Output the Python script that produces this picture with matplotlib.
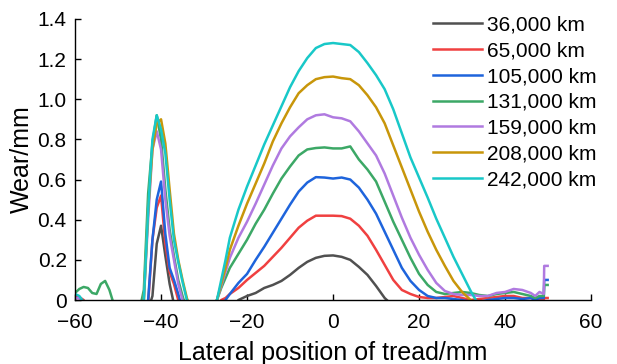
#!/usr/bin/env python3
"""
tread_wear.py
Lateral wear profiles of the tread at several mileages.
"""

import numpy as np
import matplotlib
matplotlib.use('Agg')
import matplotlib.pyplot as plt

# Lateral position across the tread (mm)
lateral_mm = [-61, -60, -59, -58, -57, -56, -55, -54, -53, -52, -51,
              -45, -44, -43, -42, -41, -40, -39, -38, -37, -36, -35, -34, -33,
              -30, -28, -27, -26, -25, -24, -22, -20, -18, -16, -14, -12, -10, -8, -6, -4, -2,
              0, 2, 4, 6, 8, 10, 12, 14, 16, 18, 20, 22, 24, 26, 28, 30, 32, 34, 36, 38, 40, 42, 44, 46,
              47, 48, 49, 49.1, 49.9]

# Wear depth (mm); negative values fall below the axis and are not shown
wear_36k = [-0.05, -0.05, -0.05, -0.05, -0.05, -0.05, -0.05, -0.05, -0.05, -0.05, -0.05,
            -0.05, -0.05, -0.05, 0.02, 0.28, 0.37, 0.22, 0.08, -0.02, -0.05, -0.05, -0.05, -0.05,
            -0.05, -0.05, -0.05, -0.05, -0.05, -0.05, 0.0, 0.02, 0.035, 0.06, 0.075, 0.095, 0.125, 0.16, 0.19, 0.21, 0.22,
            0.222, 0.215, 0.2, 0.165, 0.125, 0.07, 0.01, -0.03, -0.05, -0.05, -0.05, -0.05, -0.05, -0.05, -0.05, -0.05,
            -0.05, -0.05, -0.05, -0.05, -0.05, -0.05, -0.05, -0.05,
            -0.05, -0.05, -0.05, -0.05, -0.05]
wear_65k = [0.0, 0.02, 0.015, 0.0, -0.05, -0.05, -0.05, -0.05, -0.05, -0.05, -0.05,
            -0.05, -0.05, -0.02, 0.3, 0.46, 0.52, 0.28, 0.14, 0.08, 0.0, -0.05, -0.05, -0.05,
            -0.05, -0.05, -0.05, 0.0, 0.01, 0.03, 0.06, 0.1, 0.135, 0.17, 0.215, 0.26, 0.31, 0.36, 0.395, 0.42, 0.42,
            0.42, 0.418, 0.405, 0.37, 0.32, 0.25, 0.175, 0.1, 0.05, 0.03, 0.015, 0.01, 0.01, 0.015, 0.02, 0.01,
            0.0, 0.005, 0.01, 0.015, 0.02, 0.02, 0.01, 0.01,
            0.005, 0.0, 0.0, 0.01, 0.01]
wear_105k = [-0.05, -0.05, -0.05, -0.05, -0.05, -0.05, -0.05, -0.05, -0.05, -0.05, -0.05,
             -0.05, -0.05, 0.0, 0.3, 0.5, 0.59, 0.33, 0.16, 0.1, 0.03, -0.05, -0.05, -0.05,
             -0.05, -0.05, -0.05, -0.05, 0.0, 0.03, 0.085, 0.13, 0.2, 0.265, 0.335, 0.405, 0.475, 0.54, 0.585, 0.612, 0.61,
             0.605, 0.61, 0.6, 0.56, 0.5, 0.43, 0.34, 0.25, 0.16, 0.095, 0.05, 0.02, 0.01, 0.01, 0.005, 0.0,
             -0.01, -0.01, 0.0, 0.005, 0.01, 0.01, 0.005, 0.01,
             0.0, 0.01, 0.01, 0.1, 0.1]
wear_131k = [0.02, 0.035, 0.055, 0.065, 0.06, 0.035, 0.03, 0.08, 0.095, 0.05, -0.02,
             -0.05, 0.05, 0.53, 0.78, 0.92, 0.8, 0.55, 0.35, 0.22, 0.1, 0.02, -0.05, -0.05,
             -0.05, -0.05, 0.0, 0.06, 0.11, 0.16, 0.23, 0.3, 0.38, 0.45, 0.53, 0.605, 0.665, 0.72, 0.75, 0.757, 0.76,
             0.755, 0.755, 0.765, 0.7, 0.65, 0.59, 0.49, 0.39, 0.3, 0.21, 0.13, 0.075, 0.04, 0.03, 0.035, 0.04,
             0.035, 0.025, 0.02, 0.03, 0.035, 0.04, 0.03, 0.02,
             0.01, 0.02, 0.02, 0.075, 0.075]
wear_159k = [0.0, 0.01, 0.01, -0.05, -0.05, -0.05, -0.05, -0.05, -0.05, -0.05, -0.05,
             -0.05, 0.0, 0.4, 0.75, 0.84, 0.75, 0.5, 0.32, 0.2, 0.08, 0.0, -0.05, -0.05,
             -0.05, -0.05, 0.0, 0.07, 0.14, 0.21, 0.31, 0.39, 0.48, 0.575, 0.67, 0.755, 0.815, 0.86, 0.9, 0.92, 0.925,
             0.91, 0.905, 0.89, 0.84, 0.78, 0.72, 0.63, 0.52, 0.41, 0.31, 0.225, 0.15, 0.085, 0.045, 0.03, 0.025,
             0.025, 0.02, 0.02, 0.035, 0.04, 0.055, 0.05, 0.035,
             0.02, 0.04, 0.03, 0.17, 0.17]
wear_208k = [-0.05, -0.05, -0.05, -0.05, -0.05, -0.05, -0.05, -0.05, -0.05, -0.05, -0.05,
             -0.05, 0.0, 0.45, 0.75, 0.88, 0.9, 0.78, 0.55, 0.33, 0.2, 0.1, 0.01, -0.05,
             -0.05, -0.05, 0.0, 0.08, 0.16, 0.25, 0.37, 0.48, 0.58, 0.68, 0.79, 0.88, 0.96, 1.03, 1.07, 1.1, 1.11,
             1.113, 1.105, 1.1, 1.07, 1.02, 0.96, 0.88, 0.77, 0.66, 0.55, 0.44, 0.34, 0.25, 0.17, 0.095, 0.04,
             0.0, -0.05, -0.05, -0.05, -0.05, -0.05, -0.05, -0.05,
             -0.05, -0.05, -0.05, -0.05, -0.05]
wear_242k = [0.0, 0.03, 0.02, -0.01, -0.05, -0.05, -0.05, -0.05, -0.05, -0.05, -0.05,
             -0.05, 0.0, 0.45, 0.8, 0.92, 0.85, 0.73, 0.5, 0.3, 0.19, 0.09, 0.0, -0.05,
             -0.05, -0.05, 0.0, 0.1, 0.2, 0.31, 0.45, 0.565, 0.67, 0.775, 0.87, 0.965, 1.06, 1.14, 1.205, 1.255, 1.275,
             1.28, 1.275, 1.27, 1.235, 1.18, 1.12, 1.05, 0.95, 0.83, 0.71, 0.61, 0.51, 0.405, 0.31, 0.215, 0.13,
             0.045, -0.03, -0.05, -0.05, -0.05, -0.05, -0.05, -0.05,
             -0.05, -0.05, -0.05, -0.05, -0.05]

labels = ['36,000 km', '65,000 km', '105,000 km', '131,000 km',
          '159,000 km', '208,000 km', '242,000 km']
colors = ['#505050', '#f04040', '#1e64dc', '#3ca866',
          '#b07ae0', '#c8960a', '#18c8c8']

x_ticks = [-60, -40, -20, 0, 20, 40, 60]
y_ticks = [0, 0.2, 0.4, 0.6, 0.8, 1.0, 1.2, 1.4]
y_tick_labels = ['0', '0.2', '0.4', '0.6', '0.8', '1.0', '1.2', '1.4']


def main():
    plt.rcParams['font.family'] = ['Liberation Sans', 'DejaVu Sans']

    fig = plt.figure(figsize=(6.17, 3.64), dpi=100)
    ax = fig.add_axes([0.1216, 0.1758, 0.8364, 0.7722])

    series = [wear_36k, wear_65k, wear_105k, wear_131k,
              wear_159k, wear_208k, wear_242k]
    x = np.array(lateral_mm)
    for wear, lab, col in zip(series, labels, colors):
        ax.plot(x, np.array(wear), color=col, lw=1.8, label=lab)

    ax.set_xlim(-60, 60)
    ax.set_ylim(0, 1.4)
    ax.set_xticks(x_ticks)
    ax.set_yticks(y_ticks)
    ax.set_yticklabels(y_tick_labels)
    ax.tick_params(direction='in', length=4, width=1, labelsize=15)
    ax.tick_params(axis='x', pad=9)
    ax.tick_params(axis='y', pad=6)

    for side in ['top', 'right']:
        ax.spines[side].set_visible(False)
    for side in ['left', 'bottom']:
        ax.spines[side].set_linewidth(1.0)

    ax.set_xlabel('Lateral position of tread/mm', fontsize=18, labelpad=7)
    ax.set_ylabel('Wear/mm', fontsize=18, labelpad=3)

    ax.legend(loc='upper left', bbox_to_anchor=(433 / 617, 0.958),
              bbox_transform=fig.transFigure, frameon=False, fontsize=15,
              handlelength=2.35, handletextpad=0.25, labelspacing=0.33,
              borderpad=0, borderaxespad=0)

    fig.savefig('out.png', dpi=100)
    plt.close(fig)


if __name__ == '__main__':
    main()
